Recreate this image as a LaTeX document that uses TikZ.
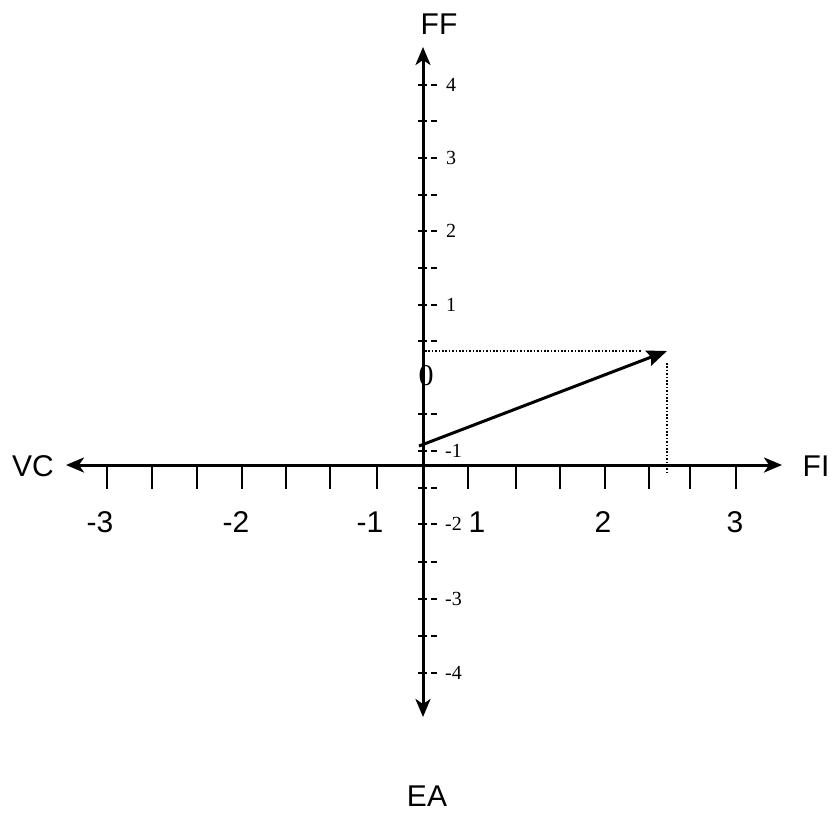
\documentclass[tikz,border=0pt]{standalone}
\usepackage{fontspec}
\setmainfont{Liberation Serif}
\newfontfamily\arialf{Liberation Sans}
\usetikzlibrary{arrows.meta}
\tikzset{
  axisline/.style={line width=3pt, {Stealth[length=18pt,width=15pt,inset=5pt]}-{Stealth[length=18pt,width=15pt,inset=5pt]}},
  htick/.style={line width=2.2pt},
  vtick/.style={line width=2pt, dash pattern=on 9pt off 4pt on 6pt off 20pt},
  biglabel/.style={font=\arialf\fontsize{30}{33}\selectfont, inner sep=0pt},
  smalllabel/.style={font=\fontsize{20}{22}\selectfont, inner sep=0pt, anchor=west},
  guide/.style={line width=1.3pt, dash pattern=on 1.6pt off 1.8pt},
  vect/.style={line width=3pt, -{Stealth[length=20pt,width=16pt,inset=3pt]}}
}
\begin{document}
\begin{tikzpicture}[x=1pt,y=-1pt]
\useasboundingbox (0,0) rectangle (833,812);
% axes
\coordinate (top) at (423,47);
\coordinate (bot) at (423,717);
\coordinate (left) at (66,465);
\coordinate (right) at (782,465);
\draw[axisline] (bot) -- (top);
\draw[axisline] (left) -- (right);
% horizontal ticks
\foreach \x [count=\i] in {107,152,197,242,286,330,377,468,516,560,605,649,690,736}{
  \coordinate (ht\i a) at (\x,465);
  \coordinate (ht\i b) at (\x,489);
  \draw[htick] (ht\i a) -- (ht\i b);
}
% vertical ticks
\foreach \y [count=\i] in {85,121,158,195,231,268,305,341,414,451,488,524,562,599,636,673}{
  \coordinate (vt\i a) at (418,\y);
  \coordinate (vt\i b) at (438,\y);
  \draw[vtick] (vt\i a) -- (vt\i b);
}
% horizontal labels
\node[biglabel] (hm3) at (100,522) {-3};
\node[biglabel] (hm2) at (236,522) {-2};
\node[biglabel] (hm1) at (370,522) {-1};
\node[biglabel] (hp1) at (477,522) {1};
\node[biglabel] (hp2) at (603,522) {2};
\node[biglabel] (hp3) at (735,522) {3};
% vertical labels
\node[smalllabel] (v4) at (446,85) {4};
\node[smalllabel] (v3) at (446,158) {3};
\node[smalllabel] (v2) at (446,231) {2};
\node[smalllabel] (v1) at (446,305) {1};
\node[smalllabel] (vm1) at (445,451) {-1};
\node[smalllabel] (vm2) at (445,524) {-2};
\node[smalllabel] (vm3) at (445,599) {-3};
\node[smalllabel] (vm4) at (445,673) {-4};
\node[font=\fontsize{30}{33}\selectfont, inner sep=0pt] (zero) at (426,376) {0};
% axis names
\node[biglabel] (FF) at (439,24) {FF};
\node[biglabel] (FI) at (816,466) {FI};
\node[biglabel] (VC) at (33,466) {VC};
\node[biglabel, anchor=base] (EA) at (427,806) {EA};
% guides and vector
\coordinate (gh1) at (425,351);
\coordinate (gh2) at (642,351);
\coordinate (gv1) at (667,363);
\coordinate (gv2) at (667,472);
\draw[guide] (gh1) -- (gh2);
\draw[guide] (gv1) -- (gv2);
\coordinate (vs) at (419,446);
\coordinate (ve) at (667,351);
\draw[vect] (vs) -- (ve);
\end{tikzpicture}
\end{document}
